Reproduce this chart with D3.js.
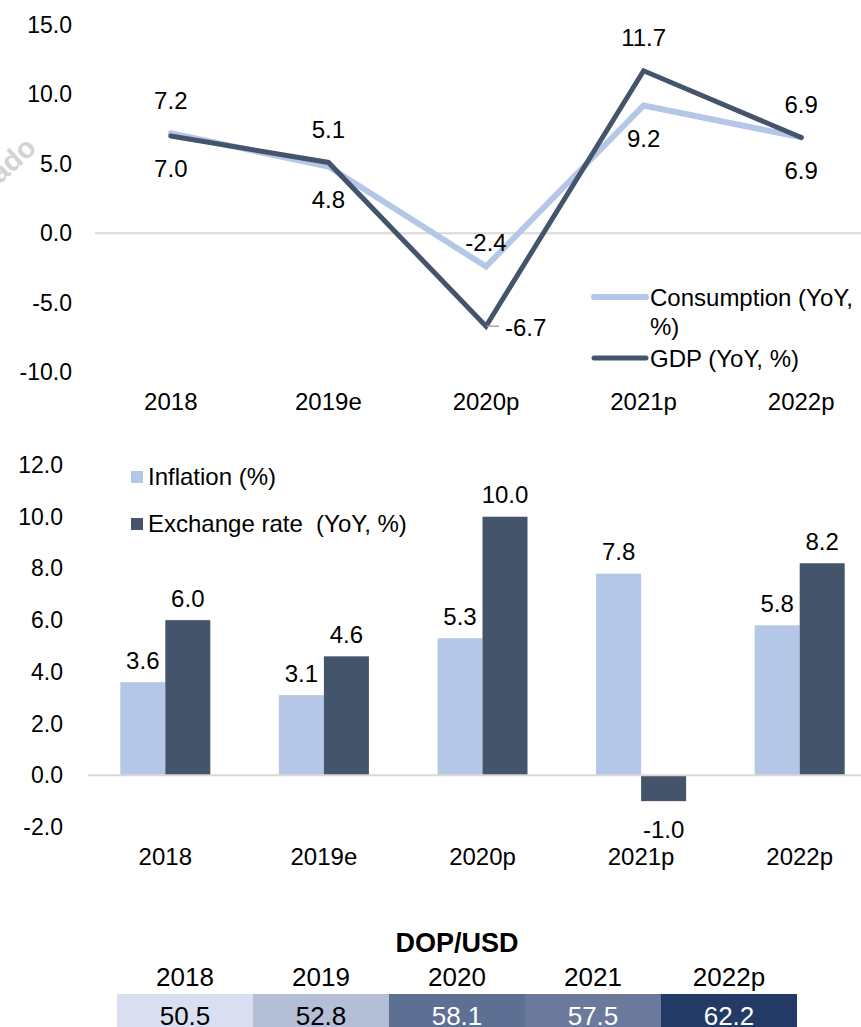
<!DOCTYPE html>
<html>
<head>
<meta charset="utf-8">
<script src="https://cdn.jsdelivr.net/npm/d3@7"></script>
<style>
    body { margin: 0; background: #fff; }
    svg text { font-family: "Liberation Sans", Arial, sans-serif; fill: #000; white-space: pre; }
</style>
</head>
<body>
<div class="chart-container"></div>
<script>
const years = ["2018", "2019e", "2020p", "2021p", "2022p"];

// top chart: growth lines
const consumption = [7.2, 4.8, -2.4, 9.2, 6.9];
const gdp = [7.0, 5.1, -6.7, 11.7, 6.9];
const consumptionLabelPos = ["above", "below", "above", "below", "below"];
const gdpLabelPos = ["below", "above", "right", "above", "above"];
const lineTicks = [15, 10, 5, 0, -5, -10];

// middle chart: bars
const inflation = [3.6, 3.1, 5.3, 7.8, 5.8];
const exchangeRate = [6.0, 4.6, 10.0, -1.0, 8.2];
const barTicks = [12, 10, 8, 6, 4, 2, 0, -2];

// bottom table
const tableYears = ["2018", "2019", "2020", "2021", "2022p"];
const dopUsd = [50.5, 52.8, 58.1, 57.5, 62.2];
const tableColors = ["#d9dff0", "#b4bed6", "#5e6f94", "#6b7a9c", "#233a66"];
const tableTextColors = ["#000", "#000", "#fff", "#fff", "#fff"];

const lightBlue = "#b4c7e7",
    darkSlate = "#44546a",
    gridColor = "#d9d9d9",
    tickSize = 23,
    fontSize = 24;

let width = 861,
    height = 1027,
    svg = d3.select("div.chart-container")
        .append("svg")
        .attr("width", width)
        .attr("height", height);

// faint watermark fragment at the left edge
svg.append("text")
    .attr("transform", "translate(38,150) rotate(-42)")
    .attr("text-anchor", "end")
    .style("font-size", "29px")
    .style("font-weight", "bold")
    .style("fill", "#d3d3d3")
    .text("ado");

// ---------- line chart ----------
let xLine = d3.scalePoint().domain(years).range([92, 880]).padding(0.5),
    yLine = d3.scaleLinear().domain([-10, 15]).range([372, 25]);

svg.append("line")
    .attr("x1", 95).attr("x2", width)
    .attr("y1", yLine(0)).attr("y2", yLine(0))
    .style("stroke", gridColor)
    .style("stroke-width", 2);

svg.append("g")
    .selectAll("text")
    .data(lineTicks)
    .enter()
    .append("text")
    .attr("x", 72)
    .attr("y", d => yLine(d))
    .attr("dy", "0.35em")
    .attr("text-anchor", "end")
    .style("font-size", tickSize + "px")
    .text(d => d.toFixed(1));

svg.append("g")
    .selectAll("text")
    .data(years)
    .enter()
    .append("text")
    .attr("x", d => xLine(d))
    .attr("y", 402)
    .attr("dy", "0.35em")
    .attr("text-anchor", "middle")
    .style("font-size", fontSize + "px")
    .text(d => d);

let lineGen = d3.line()
    .x((d, i) => xLine(years[i]))
    .y(d => yLine(d));

svg.append("path")
    .datum(consumption)
    .attr("d", lineGen)
    .style("fill", "none")
    .style("stroke", lightBlue)
    .style("stroke-width", 6)
    .style("stroke-linecap", "round");

svg.append("path")
    .datum(gdp)
    .attr("d", lineGen)
    .style("fill", "none")
    .style("stroke", darkSlate)
    .style("stroke-width", 5)
    .style("stroke-linecap", "round");

function placeLabels(values, positions) {
    let labels = values.map((v, i) => ({ v: v, pos: positions[i], x: xLine(years[i]), y: yLine(v) }));
    svg.append("g")
        .selectAll("text")
        .data(labels)
        .enter()
        .append("text")
        .attr("x", d => d.pos === "right" ? d.x + 19 : d.x)
        .attr("y", d => {
            if (d.pos === "above") return d.y - (d.v < 0 ? 24 : 33);
            if (d.pos === "below") return d.y + 33;
            return d.y + 1;
        })
        .attr("dy", "0.35em")
        .attr("text-anchor", d => d.pos === "right" ? "start" : "middle")
        .style("font-size", fontSize + "px")
        .text(d => d.v.toFixed(1));

    // short leader line for labels moved to the side
    svg.append("g")
        .selectAll("line")
        .data(labels.filter(d => d.pos === "right"))
        .enter()
        .append("line")
        .attr("x1", d => d.x + 1).attr("x2", d => d.x + 13)
        .attr("y1", d => d.y).attr("y2", d => d.y)
        .style("stroke", "#a6a6a6")
        .style("stroke-width", 1.5);
}
placeLabels(consumption, consumptionLabelPos);
placeLabels(gdp, gdpLabelPos);

// line legend
let lineLegend = svg.append("g");
lineLegend.append("line")
    .attr("x1", 594).attr("x2", 646).attr("y1", 297).attr("y2", 297)
    .style("stroke", lightBlue).style("stroke-width", 6).style("stroke-linecap", "round");
lineLegend.append("text")
    .attr("x", 650).attr("y", 298).attr("dy", "0.35em")
    .style("font-size", fontSize + "px")
    .text("Consumption (YoY,");
lineLegend.append("text")
    .attr("x", 650).attr("y", 327).attr("dy", "0.35em")
    .style("font-size", fontSize + "px")
    .text("%)");
lineLegend.append("line")
    .attr("x1", 594).attr("x2", 646).attr("y1", 358).attr("y2", 358)
    .style("stroke", darkSlate).style("stroke-width", 5).style("stroke-linecap", "round");
lineLegend.append("text")
    .attr("x", 650).attr("y", 359).attr("dy", "0.35em")
    .style("font-size", fontSize + "px")
    .text("GDP (YoY, %)");

// ---------- bar chart ----------
let xBar = d3.scalePoint().domain(years).range([86, 879]).padding(0.5),
    yBar = d3.scaleLinear().domain([-2, 12]).range([827, 465]),
    barWidth = 45;

let barSeries = [
    { name: "Inflation (%)", values: inflation, color: lightBlue, offset: -barWidth },
    { name: "Exchange rate  (YoY, %)", values: exchangeRate, color: darkSlate, offset: 0 }
];

svg.append("g")
    .selectAll("text")
    .data(barTicks)
    .enter()
    .append("text")
    .attr("x", 63)
    .attr("y", d => yBar(d))
    .attr("dy", "0.35em")
    .attr("text-anchor", "end")
    .style("font-size", tickSize + "px")
    .text(d => d.toFixed(1));

svg.append("g")
    .selectAll("text")
    .data(years)
    .enter()
    .append("text")
    .attr("x", d => xBar(d))
    .attr("y", 857)
    .attr("dy", "0.35em")
    .attr("text-anchor", "middle")
    .style("font-size", fontSize + "px")
    .text(d => d);

barSeries.forEach(s => {
    let g = svg.append("g");
    g.selectAll("rect")
        .data(s.values)
        .enter()
        .append("rect")
        .attr("x", (d, i) => xBar(years[i]) + s.offset)
        .attr("width", barWidth)
        .attr("y", d => yBar(Math.max(0, d)))
        .attr("height", d => Math.abs(yBar(d) - yBar(0)))
        .style("fill", s.color);
    g.selectAll("text")
        .data(s.values)
        .enter()
        .append("text")
        .attr("x", (d, i) => xBar(years[i]) + s.offset + barWidth / 2)
        .attr("y", d => d >= 0 ? yBar(d) - 22 : yBar(d) + 28)
        .attr("dy", "0.35em")
        .attr("text-anchor", "middle")
        .style("font-size", fontSize + "px")
        .text(d => d.toFixed(1));
});

svg.append("line")
    .attr("x1", 88).attr("x2", width)
    .attr("y1", yBar(0)).attr("y2", yBar(0))
    .style("stroke", gridColor)
    .style("stroke-width", 2);

// bar legend
let barLegend = svg.append("g")
    .selectAll("g")
    .data(barSeries)
    .enter()
    .append("g")
    .attr("transform", (d, i) => `translate(131,${477 + i * 47})`);
barLegend.append("rect")
    .attr("x", 0).attr("y", -6).attr("width", 12).attr("height", 12)
    .style("fill", d => d.color);
barLegend.append("text")
    .attr("x", 17).attr("y", 0).attr("dy", "0.35em")
    .style("font-size", fontSize + "px")
    .text(d => d.name);

// ---------- DOP/USD table ----------
let xTable = d3.scaleBand().domain(tableYears).range([117, 797]);

svg.append("text")
    .attr("x", (117 + 797) / 2)
    .attr("y", 943)
    .attr("dy", "0.35em")
    .attr("text-anchor", "middle")
    .style("font-size", "27px")
    .style("font-weight", "bold")
    .text("DOP/USD");

svg.append("g")
    .selectAll("text")
    .data(tableYears)
    .enter()
    .append("text")
    .attr("x", d => xTable(d) + xTable.bandwidth() / 2)
    .attr("y", 977)
    .attr("dy", "0.35em")
    .attr("text-anchor", "middle")
    .style("font-size", "26px")
    .text(d => d);

let cells = svg.append("g")
    .selectAll("g")
    .data(dopUsd)
    .enter()
    .append("g");
cells.append("rect")
    .attr("x", (d, i) => xTable(tableYears[i]))
    .attr("y", 994)
    .attr("width", xTable.bandwidth())
    .attr("height", 40)
    .style("fill", (d, i) => tableColors[i]);
cells.append("text")
    .attr("x", (d, i) => xTable(tableYears[i]) + xTable.bandwidth() / 2)
    .attr("y", 1016)
    .attr("dy", "0.35em")
    .attr("text-anchor", "middle")
    .style("font-size", "26px")
    .style("fill", (d, i) => tableTextColors[i])
    .text(d => d.toFixed(1));
</script>
</body>
</html>
